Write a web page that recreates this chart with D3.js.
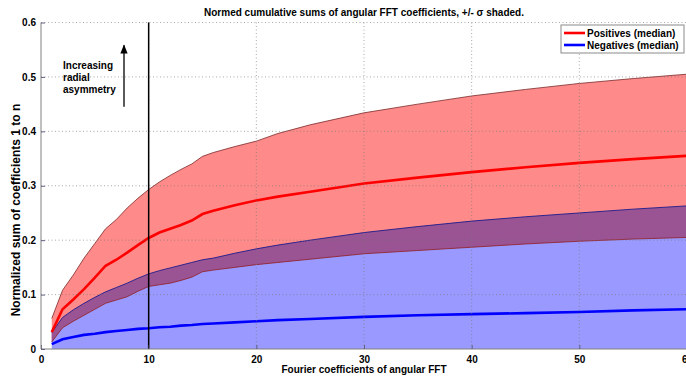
<!DOCTYPE html>
<html>
<head>
<meta charset="utf-8">
<script src="https://cdn.jsdelivr.net/npm/d3@7"></script>
<style>
  html, body { margin: 0; padding: 0; background: #fff; }
  svg { display: block; }
  text { font-family: "Liberation Sans", Arial, Helvetica, sans-serif; font-weight: bold; fill: #000; }
</style>
</head>
<body>
<svg id="chart" width="686" height="376"></svg>
<script>
// Fourier coefficient index n
const coeffN = [1, 2, 3, 4, 5, 6, 7, 8, 9, 10, 11, 12, 13, 14, 15, 16, 18, 20, 22, 25, 30, 35, 40, 45, 50, 55, 60];

// Positives: median and +/- sigma band
const posMedian = [0.031, 0.073, 0.091, 0.110, 0.131, 0.153, 0.164, 0.177, 0.191, 0.204, 0.214, 0.221, 0.228, 0.236, 0.248, 0.254, 0.264, 0.273, 0.280, 0.289, 0.304, 0.315, 0.325, 0.334, 0.342, 0.349, 0.355];
const posUpper  = [0.056, 0.108, 0.136, 0.167, 0.194, 0.221, 0.238, 0.259, 0.277, 0.293, 0.307, 0.319, 0.330, 0.340, 0.354, 0.361, 0.372, 0.382, 0.396, 0.412, 0.434, 0.450, 0.465, 0.477, 0.488, 0.497, 0.505];
const posLower  = [0.013, 0.039, 0.051, 0.062, 0.073, 0.084, 0.090, 0.096, 0.106, 0.115, 0.118, 0.121, 0.126, 0.132, 0.142, 0.145, 0.150, 0.155, 0.159, 0.165, 0.175, 0.181, 0.187, 0.193, 0.198, 0.202, 0.205];

// Negatives: median and +/- sigma band
const negMedian = [0.009, 0.018, 0.022, 0.026, 0.028, 0.031, 0.033, 0.035, 0.037, 0.038, 0.040, 0.041, 0.043, 0.044, 0.046, 0.047, 0.049, 0.051, 0.053, 0.055, 0.059, 0.062, 0.064, 0.066, 0.068, 0.071, 0.073];
const negUpper  = [0.030, 0.058, 0.072, 0.084, 0.095, 0.105, 0.113, 0.121, 0.130, 0.138, 0.144, 0.149, 0.154, 0.159, 0.164, 0.167, 0.176, 0.184, 0.191, 0.200, 0.214, 0.225, 0.235, 0.243, 0.250, 0.257, 0.263];
const negLower  = [-0.012, -0.022, -0.028, -0.032, -0.039, -0.043, -0.047, -0.051, -0.056, -0.062, -0.064, -0.067, -0.068, -0.071, -0.072, -0.073, -0.078, -0.082, -0.085, -0.090, -0.096, -0.101, -0.107, -0.111, -0.114, -0.115, -0.117];

// Axis ticks
const xTicks = [0, 10, 20, 30, 40, 50, 60];
const yTicks = [0, 0.1, 0.2, 0.3, 0.4, 0.5, 0.6];

// Annotation and labels
const markerN = 10;
const annotationLines = ["Increasing", "radial", "asymmetry"];
const legendLabels = ["Positives (median)", "Negatives (median)"];
const titleText = "Normed cumulative sums  of angular FFT coefficients, +/- \u03c3 shaded.";
const xLabelText = "Fourier coefficients of angular FFT";
const yLabelText = "Normalized sum of coefficients 1 to n";

const svg = d3.select("#chart");
const plotL = 41, plotR = 687, plotT = 22.5, plotB = 349;

const x = d3.scaleLinear().domain([0, 60]).range([plotL, plotR]);
const y = d3.scaleLinear().domain([0, 0.6]).range([plotB, plotT]);

const rows = coeffN.map((n, i) => ({
  n, pm: posMedian[i], pu: posUpper[i], pl: posLower[i],
  nm: negMedian[i], nu: negUpper[i], nl: negLower[i]
}));

const defs = svg.append("defs");
defs.append("clipPath").attr("id", "plotClip")
  .append("rect").attr("x", plotL).attr("y", plotT).attr("width", plotR - plotL).attr("height", plotB - plotT);

const plot = svg.append("g").attr("clip-path", "url(#plotClip)");

const band = (lo, hi) => d3.area().x(d => x(d.n)).y0(d => y(d[lo])).y1(d => y(d[hi]));
const edge = key => d3.line().x(d => x(d.n)).y(d => y(d[key]));

// shaded sigma bands
plot.append("path").datum(rows).attr("d", band("nl", "nu")).attr("fill", "#9999ff");
plot.append("path").datum(rows).attr("d", band("pl", "pu")).attr("fill", "#ff8a8a");
plot.append("path").datum(rows).attr("d", band("pl", "nu")).attr("fill", "#9a5393");

// band edges
plot.append("path").datum(rows).attr("d", edge("pu")).attr("fill", "none").attr("stroke", "#7a2a2a").attr("stroke-width", 0.8);
plot.append("path").datum(rows).attr("d", edge("pl")).attr("fill", "none").attr("stroke", "#8a1f2a").attr("stroke-width", 0.8);
plot.append("path").datum(rows).attr("d", edge("nu")).attr("fill", "none").attr("stroke", "#1c1c8c").attr("stroke-width", 0.9);

// dotted grid
const grid = svg.append("g").attr("stroke", "#7a7a7a").attr("stroke-width", 0.8).attr("stroke-dasharray", "1,2.5").attr("opacity", 0.8);
grid.selectAll(".gx").data(xTicks.filter(t => t > 0)).join("line")
  .attr("x1", d => x(d)).attr("x2", d => x(d)).attr("y1", plotT).attr("y2", plotB);
grid.selectAll(".gy").data(yTicks.filter(t => t > 0)).join("line")
  .attr("y1", d => y(d)).attr("y2", d => y(d)).attr("x1", plotL).attr("x2", plotR);

// median curves
plot.append("path").datum(rows).attr("d", edge("nm")).attr("fill", "none").attr("stroke", "#0000ff").attr("stroke-width", 2.6);
plot.append("path").datum(rows).attr("d", edge("pm")).attr("fill", "none").attr("stroke", "#ff0000").attr("stroke-width", 2.6);

// vertical marker
svg.append("line").attr("x1", x(markerN)).attr("x2", x(markerN)).attr("y1", plotT).attr("y2", plotB)
  .attr("stroke", "#000").attr("stroke-width", 1.5);

// axes
const xAxis = d3.axisBottom(x).tickValues(xTicks).tickSize(-4).tickPadding(7).tickFormat(d3.format("d"));
const yAxis = d3.axisLeft(y).tickValues(yTicks).tickSize(-4).tickPadding(5).tickFormat(d => d === 0 ? "0" : d3.format(".1f")(d));

const gx = svg.append("g").attr("transform", `translate(0,${plotB})`).call(xAxis);
const gy = svg.append("g").attr("transform", `translate(${plotL},0)`).call(yAxis);
[gx, gy].forEach(g => {
  g.select(".domain").attr("stroke", "#808080").attr("stroke-width", 1);
  g.selectAll(".tick line").attr("stroke", "#606080");
  g.selectAll(".tick text").attr("font-size", 10).attr("font-family", null).attr("fill", "#000");
});
gy.select(".domain").attr("d", `M0,${plotB}V${plotT}`);
gx.select(".domain").attr("d", `M${plotL},0H${plotR}`);

// titles
svg.append("text").attr("x", (plotL + plotR) / 2).attr("y", 16).attr("text-anchor", "middle")
  .attr("font-size", 10).text(titleText);
svg.append("text").attr("x", (plotL + plotR) / 2).attr("y", 373).attr("text-anchor", "middle")
  .attr("font-size", 10).text(xLabelText);
svg.append("text").attr("transform", "translate(20,210) rotate(-90)").attr("text-anchor", "middle")
  .attr("font-size", 12).text(yLabelText);

// annotation arrow and text
defs.append("marker").attr("id", "arrowHead").attr("viewBox", "0 0 10 10")
  .attr("refX", 9).attr("refY", 5).attr("markerWidth", 7).attr("markerHeight", 7).attr("orient", "auto")
  .append("path").attr("d", "M0,1 L10,5 L0,9 Z").attr("fill", "#000");
svg.append("line").attr("x1", 124).attr("x2", 124).attr("y1", y(0.445)).attr("y2", y(0.558))
  .attr("stroke", "#000").attr("stroke-width", 1.3).attr("marker-end", "url(#arrowHead)");
svg.append("g").selectAll("text").data(annotationLines).join("text")
  .attr("x", 63).attr("y", (d, i) => 69 + i * 12).attr("font-size", 10).text(d => d);

// legend
const lg = svg.append("g");
lg.append("rect").attr("x", 561).attr("y", 25).attr("width", 123).attr("height", 28)
  .attr("fill", "#fff").attr("stroke", "#8a8a8a").attr("stroke-width", 1);
const legendColors = ["#ff0000", "#0000ff"];
legendLabels.forEach((lab, i) => {
  const ly = 33 + i * 12;
  lg.append("line").attr("x1", 564).attr("x2", 585).attr("y1", ly).attr("y2", ly)
    .attr("stroke", legendColors[i]).attr("stroke-width", 2.6);
  lg.append("text").attr("x", 587).attr("y", ly + 3.5).attr("font-size", 10).text(lab);
});
</script>
</body>
</html>
